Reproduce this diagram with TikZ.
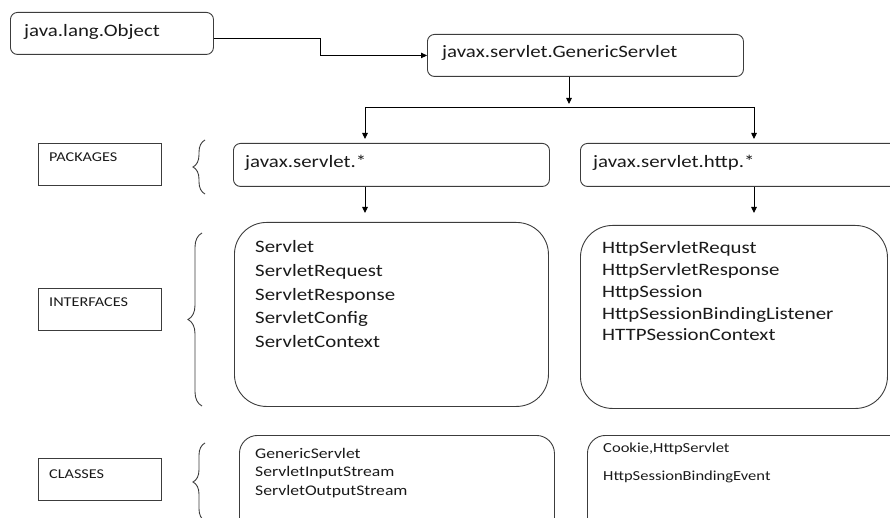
\documentclass[tikz,border=0pt]{standalone}
\usepackage{fontspec}
\setmainfont{Carlito}[FakeStretch=1.2]
\usetikzlibrary{arrows.meta,decorations.pathreplacing}

\definecolor{boxline}{HTML}{3C3C3C}
\definecolor{ink}{HTML}{1A1A1A}

\tikzset{
  box/.style={draw=boxline, line width=0.9pt, rounded corners=7pt,
    anchor=north west, inner sep=0pt},
  bigbox/.style={box, rounded corners=32pt},
  classbox/.style={box, rounded corners=18pt},
  tagbox/.style={draw=boxline, line width=0.9pt, anchor=north west,
    inner sep=0pt, minimum width=123pt, minimum height=42pt},
  txt/.style={anchor=base west, inner sep=0pt, text=ink,
    font=\fontsize{17.4}{20}\selectfont},
  smalltxt/.style={txt, font=\fontsize{14.7}{17}\selectfont},
  tinytxt/.style={txt, font=\fontsize{13.8}{16}\selectfont},
  tagtxt/.style={txt, font=\fontsize{13.5}{16}\selectfont},
  arr/.style={draw=black, line width=0.9pt,
    -{Triangle[length=6pt,width=5.5pt]}},
  link/.style={draw=black, line width=0.9pt},
  curly/.style={draw=boxline, line width=0.9pt, decorate,
    decoration={brace, amplitude=#1}},
}

\begin{document}
\begin{tikzpicture}[x=1pt, y=-1pt]
  \useasboundingbox (0,0) rectangle (890,518);
  \clip (0,0) rectangle (890,518);

  % class hierarchy at the top
  \node[box, minimum width=203pt, minimum height=42pt] (obj) at (10,12) {};
  \node[txt] (objt) at (24,37) {java.lang.Object};
  \node[box, minimum width=316pt, minimum height=42pt] (gs) at (427,34) {};
  \node[txt] (gst) at (442,58) {javax.servlet.GenericServlet};

  % packages
  \node[box, minimum width=316pt, minimum height=43pt] (pk1) at (233,143) {};
  \node[txt] (pk1t) at (245,168) {javax.servlet.*};
  \node[box, minimum width=320pt, minimum height=43pt] (pk2) at (580,143) {};
  \node[txt] (pk2t) at (593,168) {javax.servlet.http.*};

  % interfaces
  \node[bigbox, minimum width=314pt, minimum height=184pt] (if1) at (234,222) {};
  \foreach \t [count=\i] in {Servlet,ServletRequest,ServletResponse,ServletConfig,ServletContext}
    \node[txt] (if1t\i) at ({255},{253+23.5*(\i-1)}) {\t};
  \node[bigbox, minimum width=307pt, minimum height=183pt] (if2) at (580,225) {};
  \foreach \t [count=\i] in {HttpServletRequst,HttpServletResponse,HttpSession,HttpSessionBindingListener,HTTPSessionContext}
    \node[txt] (if2t\i) at ({602},{254+21.7*(\i-1)}) {\t};

  % classes
  \node[classbox, minimum width=315pt, minimum height=110pt] (cl1) at (239,435) {};
  \foreach \t [count=\i] in {GenericServlet,ServletInputStream,ServletOutputStream}
    \node[smalltxt] (cl1t\i) at ({255},{458+18.5*(\i-1)}) {\t};
  \node[classbox, minimum width=320pt, minimum height=110pt] (cl2) at (587,435) {};
  \node[tinytxt] (cl2t1) at (603,452) {Cookie,HttpServlet};
  \node[tinytxt] (cl2t2) at (603,480) {HttpSessionBindingEvent};

  % row captions
  \node[tagbox] (tpk) at (38,143) {};
  \node[tagtxt] (tpkt) at (49,162) {PACKAGES};
  \node[tagbox] (tif) at (38,288) {};
  \node[tagtxt] (tift) at (49,306.5) {INTERFACES};
  \node[tagbox] (tcl) at (38,458) {};
  \node[tagtxt] (tclt) at (49,478) {CLASSES};

  % braces
  \draw[curly=12pt] (205,194) -- (205,140);
  \draw[curly=14pt] (202,406) -- (202,233);
  \draw[curly=12pt] (205,521) -- (205,443);

  % connectors
  \draw[arr] ([yshift=-5pt]obj.east) -- ++(107,0) |- (gs.west);
  \coordinate (split) at (569,107);
  \coordinate (jl) at (365,107);
  \coordinate (jr) at (754,107);
  \draw[arr, shorten >=3pt] (split |- gs.south) -- (split);
  \draw[link] (jl) -- (jr);
  \draw[arr, shorten >=4pt] (jl) -- (jl |- pk1.north);
  \draw[arr, shorten >=4pt] (jr) -- (jr |- pk2.north);
  \draw[arr, shorten >=9pt] (jl |- pk1.south) -- (jl |- if1.north);
  \draw[arr, shorten >=12pt] (jr |- pk2.south) -- (jr |- if2.north);
\end{tikzpicture}
\end{document}
